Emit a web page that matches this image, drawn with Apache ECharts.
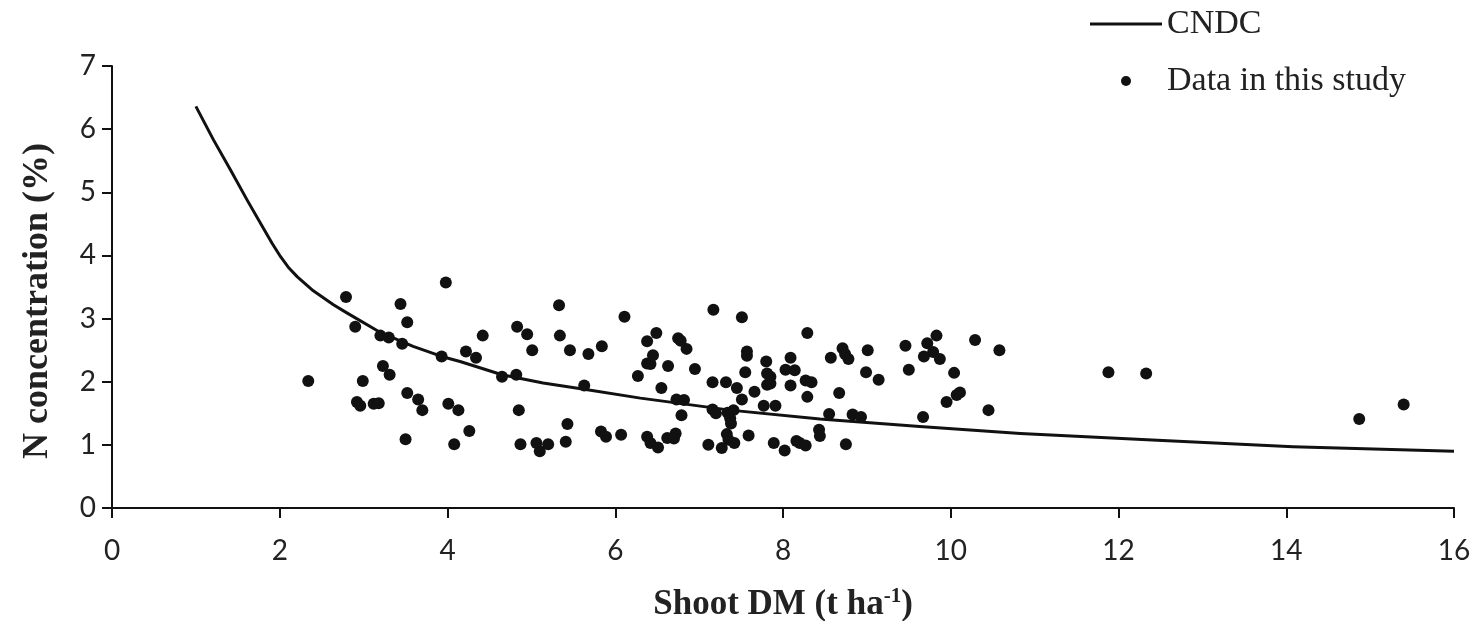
<!DOCTYPE html>
<html>
<head>
<meta charset="utf-8">
<script src="https://cdn.jsdelivr.net/npm/echarts@6/dist/echarts.min.js"></script>
<style>
html,body{margin:0;padding:0;background:#ffffff;}
#chart{width:1475px;height:621px;}
</style>
</head>
<body>
<div id="chart"></div>
<script>
// X axis ticks / Y axis ticks
const xTicks = [0, 2, 4, 6, 8, 10, 12, 14, 16];
const yTicks = [0, 1, 2, 3, 4, 5, 6, 7];

// CNDC curve
const cndcDM = [1.00, 1.21, 1.41, 1.61, 1.81, 1.91, 2.01, 2.11, 2.21, 2.40, 2.64, 2.80, 3.20, 3.59, 3.93, 4.15, 4.65, 5.14, 5.63, 6.30, 7.37, 8.44, 9.63, 10.83, 12.34, 14.08, 16.00];
const cndcN  = [6.36, 5.83, 5.36, 4.88, 4.42, 4.19, 3.98, 3.80, 3.66, 3.44, 3.22, 3.09, 2.78, 2.56, 2.40, 2.32, 2.11, 1.98, 1.88, 1.74, 1.55, 1.41, 1.29, 1.18, 1.08, 0.97, 0.90];

// Observed data (Shoot DM, N concentration)
const shootDM = [
  3.98, 2.79, 3.44, 3.52, 2.90, 3.20, 3.30, 3.46, 3.93, 3.23, 3.31, 2.34, 2.99, 3.52, 3.65, 3.70, 2.92, 2.96, 3.12, 3.18, 4.01, 4.13, 3.50, 4.08,
  5.33, 6.11, 4.83, 4.95, 4.42, 5.34, 5.01, 5.46, 5.84, 5.68, 4.22, 4.34, 4.65, 4.82, 5.63, 6.27, 4.85, 4.26, 5.43, 5.83, 5.89, 6.07, 4.87, 5.06, 5.20, 5.10, 5.41,
  7.17, 7.51, 8.29, 6.49, 6.38, 6.75, 6.78, 6.85, 6.45, 7.57, 7.57, 6.38, 6.42, 6.63, 6.95, 7.55, 7.80, 8.09, 8.03, 8.14, 7.81, 7.85, 6.55, 7.16, 7.32, 7.45, 7.81, 7.85, 7.66, 8.27, 8.34, 8.09, 8.29, 7.51, 6.73, 6.82, 7.77, 7.91, 7.16, 7.20, 7.34, 7.41, 7.37, 7.38, 6.79, 8.43, 8.44, 6.38, 6.42, 6.51, 6.62, 6.72, 6.70, 7.11, 7.33, 7.35, 7.42, 7.27, 7.59, 7.89, 8.02, 8.16, 8.20, 8.27,
  9.83, 9.72, 10.29, 10.58, 8.71, 8.74, 8.78, 8.57, 9.01, 9.46, 9.79, 9.68, 9.87, 8.99, 9.14, 9.50, 10.04, 8.67, 10.11, 10.07, 9.95, 10.45, 8.55, 8.83, 8.93, 9.67, 8.75,
  11.88, 12.33, 14.87, 15.40
];
const nConc = [
  3.57, 3.34, 3.23, 2.94, 2.87, 2.73, 2.70, 2.60, 2.40, 2.25, 2.11, 2.01, 2.01, 1.82, 1.72, 1.55, 1.68, 1.62, 1.65, 1.66, 1.65, 1.55, 1.09, 1.01,
  3.21, 3.03, 2.87, 2.75, 2.73, 2.73, 2.50, 2.50, 2.56, 2.44, 2.48, 2.38, 2.08, 2.11, 1.94, 2.09, 1.55, 1.22, 1.33, 1.21, 1.13, 1.16, 1.01, 1.03, 1.01, 0.90, 1.05,
  3.14, 3.02, 2.77, 2.77, 2.64, 2.69, 2.65, 2.52, 2.42, 2.48, 2.41, 2.29, 2.28, 2.25, 2.20, 2.15, 2.32, 2.38, 2.19, 2.18, 2.13, 2.08, 1.90, 1.99, 1.99, 1.90, 1.95, 1.97, 1.84, 2.02, 1.99, 1.94, 1.76, 1.72, 1.72, 1.71, 1.62, 1.62, 1.56, 1.50, 1.51, 1.55, 1.42, 1.34, 1.47, 1.24, 1.14, 1.13, 1.03, 0.96, 1.11, 1.18, 1.10, 1.00, 1.17, 1.08, 1.03, 0.95, 1.15, 1.03, 0.91, 1.06, 1.03, 0.99,
  2.73, 2.61, 2.66, 2.50, 2.53, 2.44, 2.36, 2.38, 2.50, 2.57, 2.47, 2.40, 2.36, 2.15, 2.03, 2.19, 2.14, 1.82, 1.83, 1.79, 1.68, 1.55, 1.49, 1.48, 1.44, 1.44, 1.01,
  2.15, 2.13, 1.41, 1.64
];

const seriesNames = ['CNDC', 'Data in this study'];
const xTitle = 'Shoot DM (t ha{sup|-1})';
const yTitle = 'N concentration (%)';

const curveData = cndcDM.map((x, i) => [x, cndcN[i]]);
const scatterData = shootDM.map((x, i) => [x, nConc[i]]);

const chart = echarts.init(document.getElementById('chart'), null, {renderer: 'canvas'});
const axisColor = '#111';
const labelFont = 'Lato, "Open Sans", sans-serif';
const serif = '"Liberation Serif", "Times New Roman", serif';

chart.setOption({
  backgroundColor: '#ffffff',
  animation: false,
  grid: {left: 112, right: 21, top: 66, bottom: 113, containLabel: false, outerBoundsMode: 'none'},
  legend: {
    orient: 'vertical',
    left: 1090,
    top: 7,
    padding: 0,
    itemWidth: 72,
    itemHeight: 10,
    itemGap: 23,
    textStyle: {fontFamily: serif, fontSize: 34, color: '#222', lineHeight: 34},
    data: [
      {name: seriesNames[0], icon: 'path://M0,0 L72,0 L72,3 L0,3 Z'},
      {name: seriesNames[1], icon: 'circle'}
    ]
  },
  xAxis: {
    type: 'value',
    min: xTicks[0],
    max: xTicks[xTicks.length - 1],
    interval: xTicks[1] - xTicks[0],
    name: xTitle,
    nameLocation: 'middle',
    nameGap: 78,
    nameTextStyle: {
      fontFamily: serif, fontWeight: 'bold', fontSize: 35, color: '#222', lineHeight: 38,
      rich: {sup: {fontFamily: serif, fontWeight: 'bold', fontSize: 21, color: '#222', verticalAlign: 'top', lineHeight: 38, padding: [0, 0, 15, 0]}}
    },
    axisLine: {show: true, onZero: false, lineStyle: {color: axisColor, width: 2}},
    axisTick: {show: true, inside: false, length: 10, lineStyle: {color: axisColor, width: 2}},
    axisLabel: {fontFamily: labelFont, fontSize: 28, color: '#222', margin: 29},
    splitLine: {show: false}
  },
  yAxis: {
    type: 'value',
    min: yTicks[0],
    max: yTicks[yTicks.length - 1],
    interval: yTicks[1] - yTicks[0],
    name: yTitle,
    nameLocation: 'middle',
    nameGap: 56,
    nameTextStyle: {fontFamily: serif, fontWeight: 'bold', fontSize: 36, color: '#222', padding: [0, 28, 0, 0]},
    axisLine: {show: true, onZero: false, lineStyle: {color: axisColor, width: 2}},
    axisTick: {show: true, inside: false, length: 10, lineStyle: {color: axisColor, width: 2}},
    axisLabel: {fontFamily: labelFont, fontSize: 28, color: '#222', margin: 16},
    splitLine: {show: false}
  },
  series: [
    {
      name: seriesNames[0],
      type: 'line',
      data: curveData,
      symbol: 'none',
      smooth: false,
      lineStyle: {color: '#111', width: 3, join: 'round'},
      itemStyle: {color: '#111'},
      z: 2
    },
    {
      name: seriesNames[1],
      type: 'scatter',
      data: scatterData,
      symbol: 'circle',
      symbolSize: 12,
      itemStyle: {color: '#111', opacity: 1},
      z: 3
    }
  ]
});
</script>
</body>
</html>
